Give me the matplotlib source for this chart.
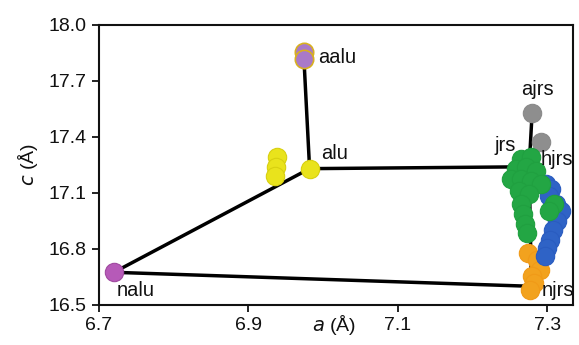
import matplotlib
matplotlib.use("Agg")
import matplotlib.pyplot as plt

plt.rcParams['font.family'] = ['Liberation Sans', 'DejaVu Sans']

# lattice parameters a, c (Angstrom)
nodes = {
    'nalu': (6.720, 16.675),
    'alu': (6.982, 17.230),
    'aalu': (6.974, 17.850),
    'jrs': (7.276, 17.240),
    'ajrs': (7.280, 17.530),
    'njrs': (7.279, 16.600),
}
edges = [('nalu', 'alu'), ('alu', 'aalu'), ('alu', 'jrs'), ('nalu', 'njrs'),
         ('ajrs', 'jrs'), ('jrs', 'njrs')]

purple_a = [6.974, 6.974]
purple_c = [17.855, 17.815]
nalu_a = [6.720]
nalu_c = [16.675]
yellow_a = [6.982, 6.939, 6.937, 6.935]
yellow_c = [17.230, 17.290, 17.240, 17.190]
gray_a = [7.280, 7.292]
gray_c = [17.530, 17.370]
green_a = [7.265, 7.279, 7.258, 7.272, 7.285, 7.252, 7.265, 7.279, 7.292,
           7.262, 7.276, 7.265, 7.268, 7.270, 7.273, 7.309, 7.303]
green_c = [17.282, 17.293, 17.229, 17.239, 17.218, 17.176, 17.176, 17.165,
           17.149, 17.112, 17.096, 17.043, 16.989, 16.936, 16.883, 17.043, 17.005]
blue_a = [7.299, 7.305, 7.303, 7.312, 7.319, 7.313, 7.308, 7.304, 7.300, 7.297]
blue_c = [17.149, 17.122, 17.085, 17.043, 17.005, 16.952, 16.899, 16.846,
          16.803, 16.761]
orange_a = [7.275, 7.287, 7.291, 7.280, 7.283, 7.277]
orange_c = [16.777, 16.739, 16.686, 16.654, 16.617, 16.580]

labels = [('aalu', 6.994, 17.825), ('alu', 6.997, 17.31), ('nalu', 6.724, 16.575),
          ('ajrs', 7.265, 17.654), ('jrs', 7.230, 17.356), ('hjrs', 7.292, 17.28),
          ('njrs', 7.293, 16.58)]

fig = plt.figure(figsize=(5.79, 3.45), dpi=100)
ax = fig.add_axes([0.171, 0.116, 0.819, 0.812])

for n1, n2 in edges:
    ax.plot([nodes[n1][0], nodes[n2][0]], [nodes[n1][1], nodes[n2][1]],
            color='black', lw=2.5, zorder=1, solid_capstyle='butt')

ms = 175
ax.scatter(purple_a, purple_c, s=ms, color='#a979c8', edgecolors='#d8b020', linewidths=1.2, zorder=3)
ax.scatter(nalu_a, nalu_c, s=ms, color='#b65ab8', edgecolors='#a04aa0', linewidths=0.8, zorder=3)
ax.scatter(yellow_a, yellow_c, s=ms, color='#e9e31c', edgecolors='#d8d010', linewidths=0.8, zorder=3)
ax.scatter(gray_a, gray_c, s=ms, color='#8e8e8e', edgecolors='#8a8a8a', linewidths=0.8, zorder=3)
ax.scatter(orange_a, orange_c, s=ms, color='#f2a21e', edgecolors='#f09a18', linewidths=0.8, zorder=3)
ax.scatter(blue_a, blue_c, s=ms, color='#2f63c6', edgecolors='#2a5cc0', linewidths=0.8, zorder=3)
ax.scatter(green_a, green_c, s=ms, color='#23a644', edgecolors='#20a040', linewidths=0.8, zorder=4)

for txt, x, y in labels:
    ax.text(x, y, txt, fontsize=14.5, ha='left', va='center', color='#111111', zorder=5)

ax.set_xlim(6.7, 7.335)
ax.set_ylim(16.5, 18.0)
ax.set_xticks([6.7, 6.9, 7.1, 7.3])
ax.set_xticklabels(['6.7', '6.9', '7.1', '7.3'])
ax.set_yticks([16.5, 16.8, 17.1, 17.4, 17.7, 18.0])
ax.set_yticklabels(['16.5', '16.8', '17.1', '17.4', '17.7', '18.0'])
ax.tick_params(direction='out', length=5, width=1.3, labelsize=14, colors='#111111', pad=4)
for sp in ax.spines.values():
    sp.set_linewidth(1.5)
    sp.set_color('#111111')

ax.text(0.495, -0.072, r'$\it{a}$ (Å)', transform=ax.transAxes, fontsize=14,
        ha='center', va='center', color='#111111')
ax.set_ylabel(r'$\it{c}$ (Å)', fontsize=14, color='#111111', labelpad=6)

fig.savefig('out.png', dpi=100)
